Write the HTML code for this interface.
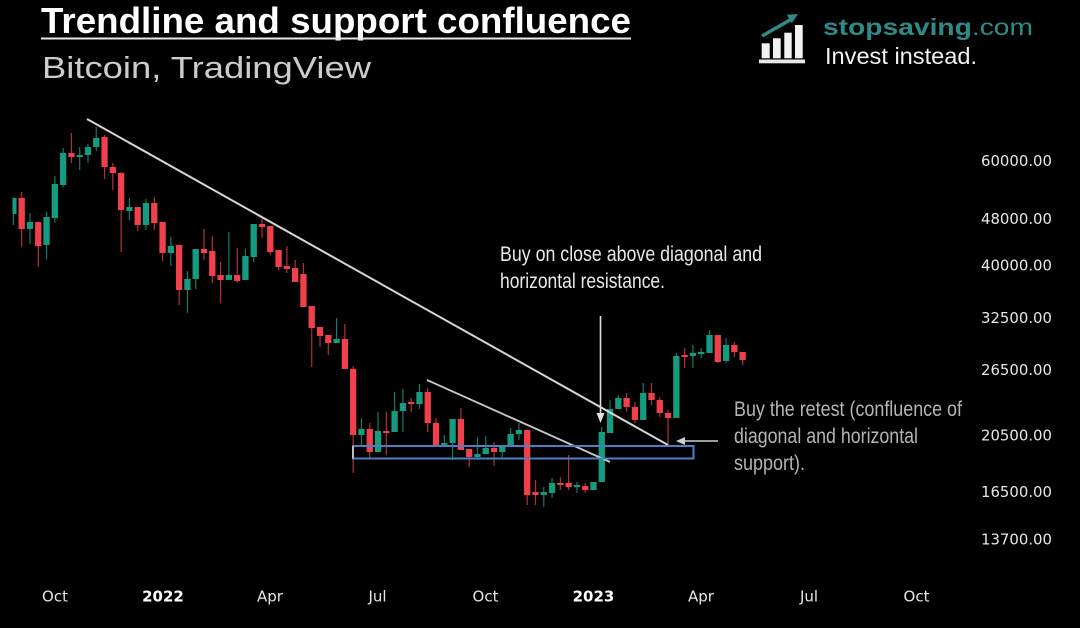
<!DOCTYPE html>
<html>
<head>
<meta charset="utf-8">
<style>
html,body{margin:0;padding:0;background:#000;}
svg{display:block;}
</style>
</head>
<body>
<svg width="1080" height="628" viewBox="0 0 1080 628" xmlns="http://www.w3.org/2000/svg">
<defs>
<clipPath id="cp"><rect x="12.5" y="100" width="760" height="480"/></clipPath>
</defs>
<rect width="1080" height="628" fill="#000"/>

<!-- Title -->
<text x="41" y="33" font-family="Liberation Sans, sans-serif" font-weight="bold" font-size="36" fill="#ffffff" textLength="590" lengthAdjust="spacingAndGlyphs">Trendline and support confluence</text>
<rect x="41" y="37.5" width="590" height="2" fill="#e6e6e6"/>
<text x="42" y="78" font-family="Liberation Sans, sans-serif" font-size="31" fill="#cccccc" textLength="329" lengthAdjust="spacingAndGlyphs">Bitcoin, TradingView</text>

<!-- Logo -->
<g>
<rect x="761.7" y="43.3" width="8" height="15" fill="#f2f2f2"/>
<rect x="773" y="38.3" width="7.7" height="20" fill="#f2f2f2"/>
<rect x="784.3" y="32.7" width="7.4" height="25.6" fill="#f2f2f2"/>
<rect x="795" y="25" width="7.7" height="33.3" fill="#f2f2f2"/>
<rect x="759" y="59.5" width="46" height="3.8" fill="#e8e8e8"/>
<line x1="762" y1="36" x2="790" y2="20" stroke="#2e8b8a" stroke-width="3.5"/>
<polygon points="798,14 786.8,14.7 791.8,23.3" fill="#2e8b8a"/>
</g>
<text x="823" y="35" font-family="Liberation Sans, sans-serif" font-size="23" fill="#2e8b8a" textLength="210" lengthAdjust="spacingAndGlyphs"><tspan font-weight="bold">stopsaving</tspan>.com</text>
<text x="825" y="64" font-family="Liberation Sans, sans-serif" font-size="23" fill="#f2f2f2" textLength="152" lengthAdjust="spacingAndGlyphs">Invest instead.</text>

<!-- Candles -->
<g clip-path="url(#cp)">
<g transform="translate(13.4,0) scale(8.287,1)">
<path fill="none" stroke="#0f7d69" stroke-width="1.2" vector-effect="non-scaling-stroke" d="M0 197V225M2 213V244M4 212V259M5 176V223M6 148V187M8 147V170M9 144V163M10 127V151M14 198V220M16 199V230M19 237V266M21 271V313M22 249V289M26 232V280M28 249V280M29 224V262M39 318V343M42 418V445M44 412V452M46 392V432M47 389V432M49 384V409M52 435V447M53 419V460M56 437V460M57 436V454M59 447V457M60 428V447M61 423V440M64 487V507M65 478V498M68 482V493M70 482V490M71 427V482M72 400V433M73 395V409M76 383V420M80 353V418M82 345V368M83 348V358M84 330V353M86 338V363"/>
<path fill="none" stroke="#b3303b" stroke-width="1.2" vector-effect="non-scaling-stroke" d="M1 192V247M3 222V267M7 133V163M11 135V179M12 163V190M13 172V252M15 207V231M17 197V230M18 222V261M20 245V305M23 229V260M24 236V283M25 262V303M27 248V283M30 219V238M31 226V255M32 250V270M33 246V273M34 260V282M35 263V307M36 306V367M37 327V347M38 335V355M40 324V369M41 366V473M43 423V459M45 412V455M48 398V412M50 388V432M51 418V447M54 408V450M55 449V467M58 442V466M62 430V505M63 480V505M66 477V490M67 455V490M69 483V493M74 393V412M75 402V423M77 383V405M78 397V417M79 410V445M81 348V368M85 335V363M87 342V357M88 352V365"/>
<path fill="none" stroke="#169b81" stroke-width="6.3" vector-effect="non-scaling-stroke" d="M0 198V214M2 222V229M4 217V245M5 184V218M6 153V185M8 155V157M9 147V155M10 138V147M14 207V211M16 203V225M19 246V253M21 279V290M22 249V279M26 275V280M28 256V280M29 224V257M39 339V343M42 429V435M44 431V452M46 411V432M47 403V411M49 392V404M52 443V447M53 419V443M56 454V457M57 448V454M59 447V452M60 434V447M61 430V434M64 492V495M65 483V493M68 485V487M70 482V490M71 432V482M72 409V433M73 398V409M76 393V420M80 356V418M82 353V356M83 352V354M84 335V353M86 345V361"/>
<path fill="none" stroke="#f0404c" stroke-width="6.3" vector-effect="non-scaling-stroke" d="M1 198V229M3 222V246M7 153V157M11 137V167M12 167V173M13 173V210M15 207V225M17 203V223M18 222V253M20 245V290M23 249V253M24 251V276M25 275V280M27 275V281M30 224V227M31 226V252M32 250V267M33 266V269M34 268V282M35 274V307M36 306V328M37 327V336M38 335V343M40 339V369M41 369V435M43 429V452M45 431V433M48 402V404M50 392V423M51 423V447M54 419V450M55 449V457M58 448V452M62 430V495M63 492V495M66 483V485M67 483V487M69 486V490M74 398V407M75 407V420M77 393V400M78 400V413M79 413V418M81 355V357M85 335V362M87 345V352M88 352V360"/>
</g>
</g>

<!-- Trendlines -->
<line x1="87" y1="119" x2="668" y2="445" stroke="#d6d6d6" stroke-width="2"/>
<line x1="427" y1="380" x2="610" y2="462" stroke="#c8c8c8" stroke-width="1.8"/>

<!-- Support rectangle -->
<rect x="353" y="446" width="340.5" height="12.5" fill="none" stroke="#4a7fc2" stroke-width="2"/>
<line x1="353" y1="446" x2="353" y2="458.5" stroke="#bdbdbd" stroke-width="2"/>

<!-- Arrows -->
<line x1="600.5" y1="316" x2="600.5" y2="415" stroke="#e0e0e0" stroke-width="1.6"/>
<polygon points="596.5,413 604.5,413 600.5,423" fill="#e0e0e0"/>
<line x1="718" y1="441" x2="683" y2="441" stroke="#cfcfcf" stroke-width="1.6"/>
<polygon points="676,441 685,437 685,445" fill="#cfcfcf"/>

<!-- Annotations -->
<g font-family="Liberation Sans Narrow, Liberation Sans, sans-serif" font-size="21">
<text x="500" y="261" fill="#e8e8e8" textLength="262" lengthAdjust="spacingAndGlyphs">Buy on close above diagonal and</text>
<text x="500" y="288" fill="#e8e8e8" textLength="165" lengthAdjust="spacingAndGlyphs">horizontal resistance.</text>
<text x="734" y="416" fill="#b4b4b4" textLength="228" lengthAdjust="spacingAndGlyphs">Buy the retest (confluence of</text>
<text x="734" y="443" fill="#b4b4b4" textLength="184" lengthAdjust="spacingAndGlyphs">diagonal and horizontal</text>
<text x="734" y="470" fill="#b4b4b4" textLength="71" lengthAdjust="spacingAndGlyphs">support).</text>
</g>

<!-- Y axis -->
<g font-family="DejaVu Sans, sans-serif" font-size="15" fill="#e6e6e6">
<text x="981" y="166.2" textLength="71" lengthAdjust="spacingAndGlyphs">60000.00</text>
<text x="981" y="223.8" textLength="71" lengthAdjust="spacingAndGlyphs">48000.00</text>
<text x="981" y="270.5" textLength="71" lengthAdjust="spacingAndGlyphs">40000.00</text>
<text x="981" y="322.8" textLength="71" lengthAdjust="spacingAndGlyphs">32500.00</text>
<text x="981" y="374.8" textLength="71" lengthAdjust="spacingAndGlyphs">26500.00</text>
<text x="981" y="440.5" textLength="71" lengthAdjust="spacingAndGlyphs">20500.00</text>
<text x="981" y="497.2" textLength="71" lengthAdjust="spacingAndGlyphs">16500.00</text>
<text x="981" y="544.5" textLength="71" lengthAdjust="spacingAndGlyphs">13700.00</text>
</g>

<!-- X axis -->
<g font-family="DejaVu Sans, sans-serif" font-size="15" fill="#e6e6e6" text-anchor="middle">
<text x="55" y="601.5">Oct</text>
<text x="163" y="601.5" font-weight="bold" fill="#ffffff">2022</text>
<text x="270" y="601.5">Apr</text>
<text x="377.5" y="601.5">Jul</text>
<text x="485.5" y="601.5">Oct</text>
<text x="593.5" y="601.5" font-weight="bold" fill="#ffffff">2023</text>
<text x="701" y="601.5">Apr</text>
<text x="809" y="601.5">Jul</text>
<text x="916.5" y="601.5">Oct</text>
</g>
</svg>
</body>
</html>
